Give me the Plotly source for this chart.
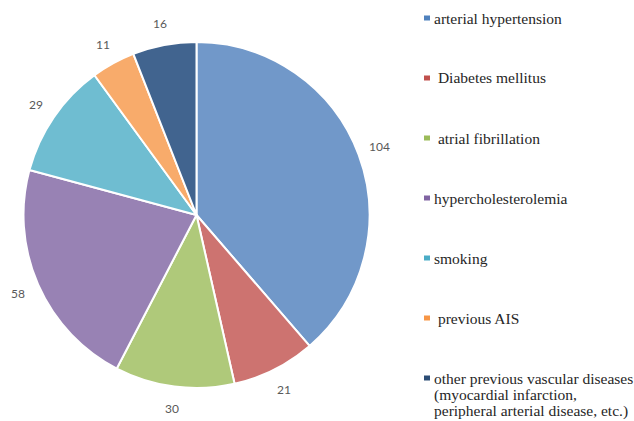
import math
import plotly.graph_objects as go

# Risk factors and patient counts
categories = [
    "arterial hypertension",
    " Diabetes mellitus",
    " atrial fibrillation",
    "hypercholesterolemia",
    "smoking",
    " previous AIS",
    "other previous vascular diseases<br>(myocardial infarction,<br>peripheral arterial disease, etc.)",
]
counts = [104, 21, 30, 58, 29, 11, 16]
colors = ["#7198C9", "#CD7370", "#AFC97A", "#9882B4", "#6FBDD1", "#F8AB6B", "#41648F"]
legend_colors = ["#4F81BD", "#C0504D", "#9BBB59", "#8064A2", "#4BACC6", "#F79646", "#2C4D75"]

W, H = 634, 421
cx, cy, r = 196.5, 215, 173
label_r = 195

fig = go.Figure(
    go.Pie(
        labels=[c.split("<br>")[0].strip() for c in categories],
        values=counts,
        sort=False,
        direction="clockwise",
        rotation=0,
        marker=dict(colors=colors, line=dict(color="white", width=2)),
        textinfo="none",
        showlegend=False,
        domain=dict(
            x=[(cx - r) / W, (cx + r) / W],
            y=[(H - cy - r) / H, (H - cy + r) / H],
        ),
    )
)

# Legend drawn at the right: small colour keys with serif text
x_key, x_text, y0, step, line_h = 424, 432, 18, 60, 16.5
for i, (name, col) in enumerate(zip(categories, legend_colors)):
    yc = y0 + i * step
    fig.add_shape(
        type="rect", xref="paper", yref="paper",
        x0=x_key / W, x1=(x_key + 6) / W,
        y0=(H - yc - 2.5) / H, y1=(H - yc + 2.5) / H,
        fillcolor=col, line=dict(width=0),
    )
    for j, line in enumerate(name.split("<br>")):
        fig.add_annotation(
            text=line, xref="paper", yref="paper",
            x=x_text / W, y=(H - yc - j * line_h) / H,
            xanchor="left", yanchor="middle", showarrow=False,
            font=dict(family="Liberation Serif", size=15.5, color="#262626"),
        )

# Value labels outside each slice, at the slice's mid-angle
total = sum(counts)
acc = 0
for v in counts:
    mid = (acc + v / 2) / total * 2 * math.pi
    acc += v
    lx = cx + label_r * math.sin(mid)
    ly = cy - label_r * math.cos(mid)
    fig.add_annotation(
        text=str(v), xref="paper", yref="paper",
        x=lx / W, y=(H - ly) / H, xanchor="center", yanchor="middle",
        showarrow=False, font=dict(family="Lato", size=12, color="#595959"),
    )

fig.update_layout(
    width=W, height=H,
    margin=dict(l=0, r=0, t=0, b=0),
    font=dict(family="Liberation Serif"),
)

fig.write_html("out.html")
